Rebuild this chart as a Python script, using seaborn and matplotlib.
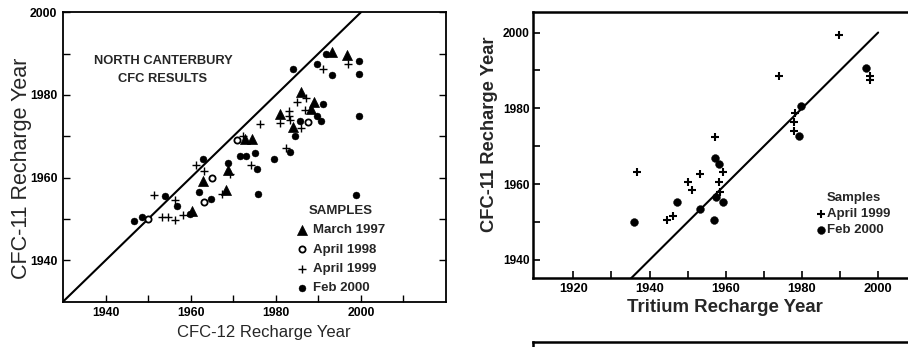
import matplotlib
matplotlib.use("Agg")
import matplotlib.pyplot as plt
import seaborn as sns
from matplotlib.ticker import FixedLocator

# ---------------- data: left panel (CFC-12 vs CFC-11) ----------------
mar97_x = [1993.1, 1996.7, 1985.9, 1988.9, 1988.2, 1980.9, 1984.1, 1972.7, 1974.3, 1968.7, 1962.9, 1968.3, 1960.2]
mar97_y = [1990.4, 1989.7, 1980.8, 1978.4, 1976.6, 1975.5, 1972.3, 1969.4, 1969.4, 1961.9, 1959.1, 1956.9, 1952.0]

apr98_x = [1970.9, 1965.1, 1963.1, 1950.0, 1987.6]
apr98_y = [1969.1, 1959.9, 1954.1, 1949.9, 1973.5]

apr99_x = [1997.0, 1991.1, 1987.0, 1984.9, 1986.8, 1983.1, 1983.1, 1983.3, 1981.1, 1986.0, 1976.2, 1972.2,
           1982.5, 1974.1, 1961.2, 1963.2, 1969.2, 1967.3, 1951.4, 1956.3, 1953.3, 1954.6, 1956.3, 1958.2]
apr99_y = [1987.4, 1986.2, 1979.3, 1978.2, 1976.4, 1976.2, 1975.0, 1974.0, 1973.2, 1972.0, 1973.1, 1970.2,
           1967.2, 1963.1, 1963.1, 1961.7, 1960.9, 1956.0, 1955.7, 1954.5, 1950.6, 1950.6, 1949.7, 1950.9]

feb00_x = [1991.9, 1999.5, 1999.5, 1989.6, 1993.3, 1984.1, 1991.1, 1989.7, 1990.7, 1985.6, 1984.6, 1999.5,
           1971.7, 1973.0, 1975.1, 1975.6, 1979.6, 1983.3, 1975.8, 1962.8, 1968.7, 1962.0, 1964.7, 1953.9,
           1956.9, 1946.7, 1948.6, 1959.8, 1998.9]
feb00_y = [1989.9, 1988.1, 1985.0, 1987.4, 1984.9, 1986.3, 1977.8, 1975.0, 1973.6, 1973.8, 1970.0, 1975.0,
           1965.3, 1965.3, 1965.9, 1962.1, 1964.6, 1966.1, 1956.1, 1964.6, 1963.5, 1956.5, 1954.9, 1955.5,
           1953.1, 1949.5, 1950.6, 1951.1, 1955.7]

one_to_one_left = [1930, 2000]

# ---------------- data: right panel (Tritium vs CFC-11) ----------------
tr_apr99_x = [1989.8, 1997.9, 1997.9, 1974.0, 1978.2, 1977.9, 1977.9, 1957.2, 1936.8, 1953.3, 1959.2,
              1950.2, 1958.2, 1951.2, 1958.5, 1946.2, 1944.5]
tr_apr99_y = [1999.4, 1988.6, 1987.5, 1988.6, 1978.7, 1976.3, 1973.9, 1972.4, 1963.2, 1962.6, 1963.3,
              1960.5, 1960.5, 1958.5, 1957.8, 1951.5, 1950.4]

tr_feb00_x = [1996.8, 1979.8, 1979.2, 1957.2, 1958.1, 1957.4, 1959.2, 1947.1, 1953.3, 1935.9, 1957.0]
tr_feb00_y = [1990.6, 1980.7, 1972.6, 1966.8, 1965.4, 1956.6, 1955.4, 1955.3, 1953.5, 1950.1, 1950.6]

one_to_one_right = [1935, 2000]

left_xticks = [1940, 1960, 1980, 2000]
left_xminor = [1950, 1970, 1990, 2010]
left_yticks = [1940, 1960, 1980, 2000]
left_yminor = [1950, 1970, 1990]
right_xticks = [1920, 1940, 1960, 1980, 2000]
right_xminor = [1930, 1950, 1970, 1990]
right_yticks = [1940, 1960, 1980, 2000]
right_yminor = [1950, 1970, 1990]

# ---------------- style ----------------
sns.set_style("ticks")
plt.rcParams['font.family'] = ['Liberation Sans', 'DejaVu Sans']

W, H = 908, 347
fig = plt.figure(figsize=(W / 100, H / 100), dpi=100)


def frac_box(x0, y_top, x1, y_bot):
    return [x0 / W, (H - y_bot) / H, (x1 - x0) / W, (y_bot - y_top) / H]


axL = fig.add_axes(frac_box(63, 12.3, 446, 301.7))
axR = fig.add_axes(frac_box(533, 11.7, 917, 277.7))
axB = fig.add_axes([533 / W, -0.5, 0.6, 0.5 + (H - 341.7) / H])

k = "black"

# left panel
sns.lineplot(x=one_to_one_left, y=one_to_one_left, ax=axL, color=k, lw=1.5)
sns.scatterplot(x=mar97_x, y=mar97_y, ax=axL, marker="^", s=52, color=k, edgecolor=k, linewidth=0.5,
                label="March 1997", zorder=3)
sns.scatterplot(x=apr98_x, y=apr98_y, ax=axL, marker="o", s=20, facecolor="white", edgecolor=k,
                linewidth=1.3, label="April 1998", zorder=3)
sns.scatterplot(x=apr99_x, y=apr99_y, ax=axL, marker="+", s=32, color=k, linewidth=1.0,
                label="April 1999", zorder=3)
sns.scatterplot(x=feb00_x, y=feb00_y, ax=axL, marker="o", s=25, color=k, edgecolor=k, linewidth=0.3,
                label="Feb 2000", zorder=3)

axL.set_xlim(1930, 2020)
axL.set_ylim(1930, 2000)
axL.xaxis.set_major_locator(FixedLocator(left_xticks))
axL.xaxis.set_minor_locator(FixedLocator(left_xminor))
axL.yaxis.set_major_locator(FixedLocator(left_yticks))
axL.yaxis.set_minor_locator(FixedLocator(left_yminor))
axL.tick_params(axis="both", which="both", direction="in", length=5, width=1, right=True,
                labelsize=8.8, pad=4, colors=k)
for lab in axL.get_xticklabels() + axL.get_yticklabels():
    lab.set_fontweight("bold")
for sp in axL.spines.values():
    sp.set_linewidth(1.3)
    sp.set_color(k)
axL.set_xlabel("")
axL.set_ylabel("")
fig.text(264 / W, (H - 333) / H, "CFC-12 Recharge Year", ha="center", va="center", fontsize=12)
fig.text(22 / W, (H - 168) / H, "CFC-11 Recharge Year", ha="center", va="center", fontsize=15.5,
         rotation=90)
fig.text(163 / W, (H - 70) / H, "NORTH CANTERBURY\nCFC RESULTS", ha="center", va="center",
         fontsize=9.3, fontweight="bold", linespacing=1.65)

axL.legend(title="SAMPLES", loc="center", bbox_to_anchor=(341 / W, (H - 249.5) / H),
           bbox_transform=fig.transFigure, frameon=False, prop={"weight": "bold", "size": 9.5},
           title_fontproperties={"weight": "bold", "size": 9.5}, handlelength=0.8,
           handletextpad=0.5, labelspacing=0.55, borderpad=0, borderaxespad=0)

# right panel
sns.lineplot(x=one_to_one_right, y=one_to_one_right, ax=axR, color=k, lw=1.5)
sns.scatterplot(x=tr_apr99_x, y=tr_apr99_y, ax=axR, marker="+", s=36, color=k, linewidth=1.5,
                label="April 1999", zorder=3)
sns.scatterplot(x=tr_feb00_x, y=tr_feb00_y, ax=axR, marker="o", s=32, color=k, edgecolor=k,
                linewidth=0.3, label="Feb 2000", zorder=3)
axR.set_xlim(1909.4, 2010.2)
axR.set_ylim(1935.3, 2005.5)
axR.xaxis.set_major_locator(FixedLocator(right_xticks))
axR.xaxis.set_minor_locator(FixedLocator(right_xminor))
axR.yaxis.set_major_locator(FixedLocator(right_yticks))
axR.yaxis.set_minor_locator(FixedLocator(right_yminor))
axR.tick_params(axis="both", which="both", direction="in", length=5, width=1.2,
                labelsize=9.3, pad=4, colors=k)
axR.tick_params(axis="y", labelsize=8.6, pad=2.5)
for lab in axR.get_xticklabels() + axR.get_yticklabels():
    lab.set_fontweight("bold")
for sp in axR.spines.values():
    sp.set_linewidth(1.8)
    sp.set_color(k)
axR.set_xlabel("")
axR.set_ylabel("")
fig.text(725 / W, (H - 308) / H, "Tritium Recharge Year", ha="center", va="center", fontsize=13.4,
         fontweight="bold")
fig.text(490 / W, (H - 134) / H, "CFC-11 Recharge Year", ha="center", va="center", fontsize=13.2,
         fontweight="bold", rotation=90)
axR.legend(title="Samples", loc="center", bbox_to_anchor=(854 / W, (H - 214) / H),
           bbox_transform=fig.transFigure, frameon=False, prop={"weight": "bold", "size": 9.5},
           title_fontproperties={"weight": "bold", "size": 9.5}, handlelength=0.5,
           handletextpad=0.25, labelspacing=0.3, borderpad=0, borderaxespad=0)

# partial lower panel
axB.set_xticks([])
axB.set_yticks([])
for name, sp in axB.spines.items():
    sp.set_linewidth(1.8)
    sp.set_color(k)
    sp.set_visible(name in ("top", "left"))

fig.savefig("out.png", dpi=100)
